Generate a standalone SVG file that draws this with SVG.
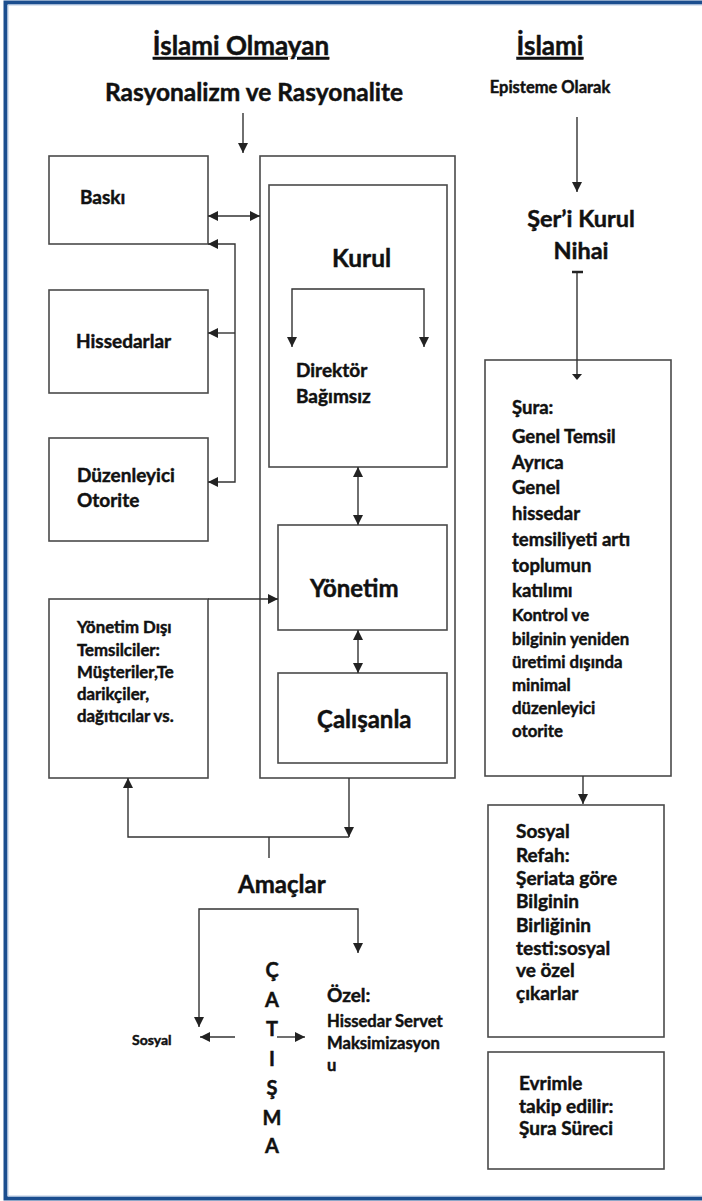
<svg xmlns="http://www.w3.org/2000/svg" width="702" height="1201" viewBox="0 0 702 1201">
<defs>
<marker id="ah" viewBox="0 0 10 10" refX="10" refY="5" markerWidth="11" markerHeight="10" markerUnits="userSpaceOnUse" orient="auto-start-reverse">
<path d="M0,0 L10,5 L0,10 z" fill="#222"/>
</marker>
<style>
.t{font-family:Lato,"Liberation Sans","DejaVu Sans",sans-serif;font-weight:bold;fill:#111;stroke:#111;stroke-width:0.45}
.box{fill:#fff;stroke:#4a4a4a;stroke-width:1.6}
.ln{fill:none;stroke:#333;stroke-width:1.4}
.ar{marker-end:url(#ah)}
.ar2{marker-start:url(#ah);marker-end:url(#ah)}
</style>
</defs>
<rect width="702" height="1201" fill="#fff"/>
<g id="frame">
<path d="M702,2.5 H5.5 V1198.5 H702" fill="none" stroke="#1b4e8f" stroke-width="4"/>
<path d="M702,5 H8 V1196 H702" fill="none" stroke="#b7c9e2" stroke-width="1"/>
</g>
<g id="headers">
<text class="t" x="241" y="55" font-size="26" text-anchor="middle" text-decoration="underline">İslami Olmayan</text>
<text class="t" x="550" y="55" font-size="26" text-anchor="middle" text-decoration="underline">İslami</text>
<text class="t" x="254" y="101" font-size="24.5" text-anchor="middle">Rasyonalizm ve Rasyonalite</text>
<text class="t" x="550" y="93" font-size="16.5" text-anchor="middle">Episteme Olarak</text>
</g>
<g id="baski"><rect class="box" x="49" y="156" width="159" height="88"/><text class="t" x="80" y="204" font-size="19">Baskı</text></g>
<g id="hissedarlar"><rect class="box" x="49" y="290" width="159" height="103"/><text class="t" x="76" y="348" font-size="19">Hissedarlar</text></g>
<g id="duzenleyici"><rect class="box" x="49" y="438" width="159" height="103"/><text class="t" x="77" y="482" font-size="19">Düzenleyici</text><text class="t" x="77" y="507" font-size="19">Otorite</text></g>
<g id="yonetim-disi"><rect class="box" x="49" y="599" width="159" height="179"/>
<text class="t" font-size="16.8"><tspan x="77" y="633">Yönetim Dışı</tspan><tspan x="77" y="656">Temsilciler:</tspan><tspan x="77" y="678">Müşteriler,Te</tspan><tspan x="77" y="700">darikçiler,</tspan><tspan x="77" y="722">dağıtıcılar vs.</tspan></text></g>
<g id="board"><rect class="box" x="260" y="156" width="195" height="622"/></g>
<g id="kurul"><rect class="box" x="269" y="185" width="178" height="282"/><text class="t" x="332" y="267" font-size="24.5">Kurul</text><text class="t" x="296" y="377" font-size="19">Direktör</text><text class="t" x="296" y="403" font-size="19">Bağımsız</text></g>
<g id="yonetim"><rect class="box" x="278" y="525" width="169" height="105"/><text class="t" x="310" y="597" font-size="24">Yönetim</text></g>
<g id="calisanla"><rect class="box" x="278" y="673" width="169" height="90"/><text class="t" x="317" y="728" font-size="24">Çalışanla</text></g>
<g id="amaclar"><text class="t" x="238" y="893" font-size="24">Amaçlar</text></g>
<g id="sosyal"><text class="t" x="132" y="1045" font-size="14">Sosyal</text></g>
<g id="catisma"><text class="t" font-size="20" text-anchor="middle"><tspan x="272" y="977">Ç</tspan><tspan x="272" y="1007">A</tspan><tspan x="272" y="1036">T</tspan><tspan x="272" y="1066">I</tspan><tspan x="272" y="1095">Ş</tspan><tspan x="272" y="1125">M</tspan><tspan x="272" y="1153">A</tspan></text></g>
<g id="ozel"><text class="t" x="327" y="1002" font-size="19">Özel:</text><text class="t" font-size="16.6"><tspan x="327" y="1027">Hissedar Servet</tspan><tspan x="327" y="1049">Maksimizasyon</tspan><tspan x="327" y="1071">u</tspan></text></g>
<g id="seri-kurul"><text class="t" x="581" y="227" font-size="23.5" text-anchor="middle">Şer’i Kurul</text><text class="t" x="581" y="259" font-size="23.5" text-anchor="middle">Nihai</text></g>
<g id="sura"><rect class="box" x="485" y="360" width="186" height="416"/>
<text class="t" font-size="18.5"><tspan x="512" y="414">Şura:</tspan><tspan x="512" y="443">Genel Temsil</tspan><tspan x="512" y="469">Ayrıca</tspan><tspan x="512" y="494">Genel</tspan><tspan x="512" y="520">hissedar</tspan><tspan x="512" y="546">temsiliyeti artı</tspan><tspan x="512" y="572">toplumun</tspan><tspan x="512" y="597">katılımı</tspan></text>
<text class="t" font-size="16.8"><tspan x="512" y="621">Kontrol ve</tspan><tspan x="512" y="645">bilginin yeniden</tspan><tspan x="512" y="668">üretimi dışında</tspan><tspan x="512" y="691">minimal</tspan><tspan x="512" y="714">düzenleyici</tspan><tspan x="512" y="737">otorite</tspan></text></g>
<g id="sosyal-refah"><rect class="box" x="488" y="805" width="176" height="232"/>
<text class="t" font-size="19"><tspan x="516" y="838">Sosyal</tspan><tspan x="516" y="862">Refah:</tspan><tspan x="516" y="885">Şeriata göre</tspan><tspan x="516" y="908">Bilginin</tspan><tspan x="516" y="932">Birliğinin</tspan><tspan x="516" y="955">testi:sosyal</tspan><tspan x="516" y="977">ve özel</tspan><tspan x="516" y="1000">çıkarlar</tspan></text></g>
<g id="evrimle"><rect class="box" x="488" y="1052" width="176" height="117"/>
<text class="t" font-size="19"><tspan x="519" y="1090">Evrimle</tspan><tspan x="519" y="1113">takip edilir:</tspan><tspan x="519" y="1135">Şura Süreci</tspan></text></g>
<g id="connectors">
<path class="ln ar" d="M243,113 V153"/>
<path class="ln ar2" d="M208,216 H260"/>
<path class="ln ar2" d="M208,244 H235 V482 H208"/>
<path class="ln ar" d="M235,333 H208"/>
<path class="ln ar2" d="M292,347 V289 H424 V347"/>
<path class="ln ar2" d="M358,467 V525"/>
<path class="ln ar2" d="M358,630 V673"/>
<path class="ln ar" d="M208,599 H278"/>
<path class="ln ar" d="M349,778 V837"/>
<path class="ln ar" d="M349,837 H128 V778"/>
<path class="ln" d="M269,837 V858"/>
<path class="ln ar2" d="M199,1027 V909 H358 V953"/>
<path class="ln ar" d="M235,1037 H200"/>
<path class="ln ar" d="M277,1037 H305"/>
<path class="ln ar" d="M577,117 V192"/>
<path class="ln" d="M577,273 V374"/>
<path d="M572,272 H583" stroke="#222" stroke-width="2.5"/>
<path d="M572,374 H582 L577,380 z" fill="#222"/>
<path class="ln ar" d="M583,776 V804"/>
</g>
</svg>
